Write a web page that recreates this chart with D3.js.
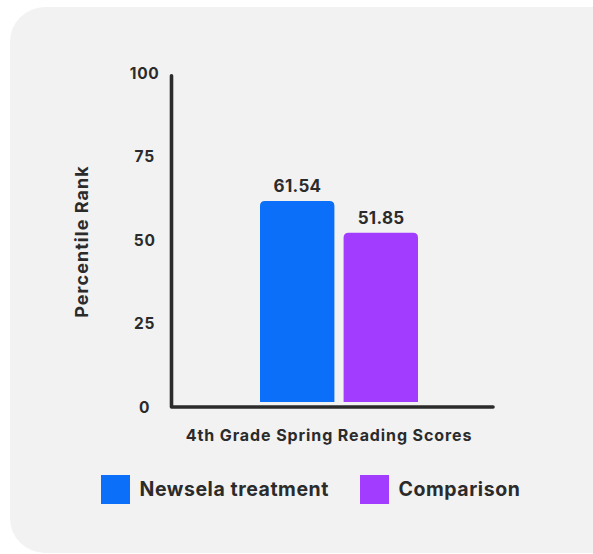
<!DOCTYPE html>
<html>
<head>
<meta charset="utf-8">
<script src="https://cdn.jsdelivr.net/npm/d3@7/dist/d3.min.js"></script>
<style>
  html, body { margin: 0; padding: 0; background: #ffffff; }
  svg { display: block; }
  text { font-family: Inter, "Open Sans", sans-serif; font-weight: 700; fill: #2b2b2b; }
</style>
</head>
<body>
<svg id="chart" width="593" height="554"></svg>
<script>
// Chart data
const category = "4th Grade Spring Reading Scores";
const seriesNames = ["Newsela treatment", "Comparison"];
const seriesValues = [61.54, 51.85];
const seriesColors = ["#0b6ffa", "#a23cff"];
const yTicks = [0, 25, 50, 75, 100];
const yTitle = "Percentile Rank";

const svg = d3.select("#chart");
const ink = "#2b2b2b";

// Card background with rounded left corners
const r = 35;
svg.append("path")
  .attr("d", `M10,${7 + r} A${r},${r} 0 0 1 ${10 + r},7 H610 V553 H${10 + r} A${r},${r} 0 0 1 10,${553 - r} Z`)
  .attr("fill", "#f2f2f2");

// Scales
const y = d3.scaleLinear().domain([0, 100]).range([402, 75.4]);
const yLabelScale = d3.scaleLinear().domain([0, 100]).range([407.3, 73.3]);
const x0 = d3.scaleBand().domain([category]).range([260, 418]);
const x1 = d3.scaleBand().domain(seriesNames).range([0, x0.bandwidth()]).paddingInner(0.11);

// Axis lines
const axisLeftX = 171.5, axisBottomY = 407, axisRightX = 493;
svg.append("path")
  .attr("d", `M${axisLeftX},${yLabelScale(100) + 2.5} V${axisBottomY} H${axisRightX}`)
  .attr("fill", "none")
  .attr("stroke", ink)
  .attr("stroke-width", 3.6)
  .attr("stroke-linecap", "round")
  .attr("stroke-linejoin", "round");

// Y tick labels via axis generator
const yAxis = svg.append("g")
  .attr("transform", "translate(144.3,0)")
  .call(d3.axisLeft(yLabelScale).tickValues(yTicks).tickSize(0).tickPadding(0));
yAxis.select(".domain").remove();
yAxis.selectAll("text")
  .attr("text-anchor", "middle")
  .attr("x", 0.35)
  .style("font-family", "Inter, sans-serif")
  .style("font-weight", 700)
  .style("font-size", "15.5px")
  .style("letter-spacing", "0.7px")
  .attr("fill", ink);

// Y axis title
svg.append("text")
  .attr("transform", "translate(81.5,241.5) rotate(-90)")
  .attr("text-anchor", "middle")
  .attr("dominant-baseline", "central")
  .style("font-size", "18px")
  .style("letter-spacing", "1.05px")
  .text(yTitle);

// Bars with rounded top corners
const rad = 5;
const data = seriesNames.map((name, i) => ({ name, value: seriesValues[i], color: seriesColors[i] }));
const g = svg.append("g").attr("transform", `translate(${x0(category)},0)`);
g.selectAll("path.bar")
  .data(data)
  .join("path")
  .attr("class", "bar")
  .attr("fill", d => d.color)
  .attr("d", d => {
    const bx = x1(d.name), bw = x1.bandwidth(), top = y(d.value), bottom = y(0);
    return `M${bx},${bottom} V${top + rad} Q${bx},${top} ${bx + rad},${top} H${bx + bw - rad} Q${bx + bw},${top} ${bx + bw},${top + rad} V${bottom} Z`;
  });

// Value labels
g.selectAll("text.val")
  .data(data)
  .join("text")
  .attr("class", "val")
  .attr("x", d => x1(d.name) + x1.bandwidth() / 2 + 0.3)
  .attr("y", d => y(d.value) - 9)
  .attr("text-anchor", "middle")
  .style("font-size", "17px")
  .style("letter-spacing", "0.3px")
  .text(d => d.value.toFixed(2));

// X axis title
svg.append("text")
  .attr("x", 329)
  .attr("y", 434.5)
  .attr("text-anchor", "middle")
  .attr("dominant-baseline", "central")
  .style("font-size", "16px")
  .style("letter-spacing", "0.9px")
  .text(category);

// Legend
const legendX = [101, 360];
const legend = svg.selectAll("g.legend")
  .data(data)
  .join("g")
  .attr("class", "legend")
  .attr("transform", (d, i) => `translate(${legendX[i]},475)`);
legend.append("rect")
  .attr("width", 29).attr("height", 29)
  .attr("fill", d => d.color);
legend.append("text")
  .attr("x", 38.5)
  .attr("y", 14)
  .attr("dominant-baseline", "central")
  .style("font-size", "19.5px")
  .style("letter-spacing", "0.55px")
  .text(d => d.name);
</script>
</body>
</html>
